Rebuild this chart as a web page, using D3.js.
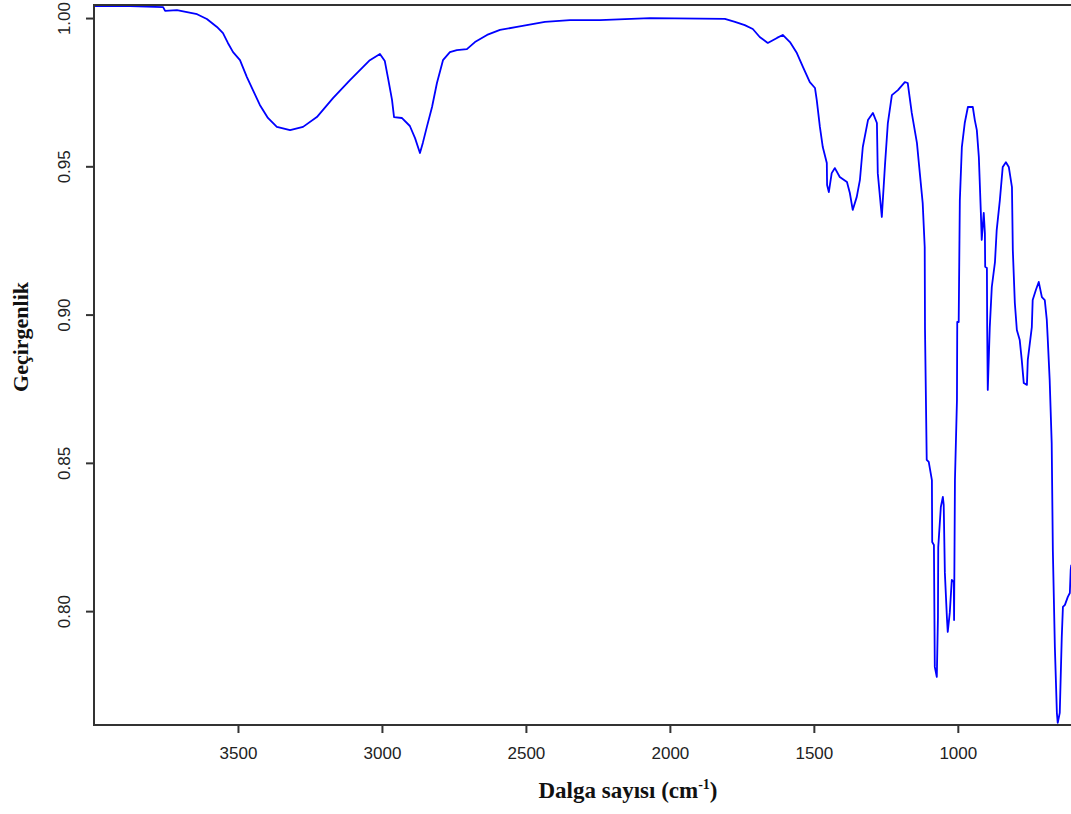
<!DOCTYPE html>
<html>
<head>
<meta charset="utf-8">
<script src="https://cdn.jsdelivr.net/npm/d3@7"></script>
<style>
  body { margin: 0; background: #fff; }
  svg { display: block; }
</style>
</head>
<body>
<svg id="chart"></svg>
<script>
// spectrum: wavenumber (cm-1) and transmittance
const wavenumbers = [4000, 3875, 3760, 3753, 3712, 3677, 3642, 3608, 3573, 3552, 3535, 3517, 3493, 3469, 3448, 3424, 3396, 3365, 3319, 3274,
  3226, 3170, 3111, 3042, 3007, 2990, 2979, 2965, 2958, 2931, 2903, 2885, 2868, 2858, 2844, 2826, 2809, 2788, 2764, 2740,
  2705, 2677, 2635, 2590, 2531, 2434, 2347, 2243, 2069, 1809, 1774, 1740, 1712, 1688, 1660, 1628, 1608, 1583, 1559, 1538,
  1514, 1496, 1490, 1479, 1469, 1455, 1454, 1448, 1438, 1427, 1410, 1385, 1375, 1365, 1351, 1340, 1330, 1312, 1295, 1281,
  1278, 1264, 1253, 1243, 1229, 1208, 1184, 1174, 1160, 1142, 1132, 1122, 1115, 1114, 1108, 1101, 1090, 1089, 1083, 1080,
  1073, 1069, 1068, 1059, 1052, 1049, 1045, 1038, 1035, 1028, 1021, 1014, 1013, 1010, 1003, 1002, 997, 993, 986, 976,
  965, 948, 941, 934, 927, 920, 917, 910, 906, 905, 899, 898, 896, 889, 882, 871, 865, 854, 844, 833,
  823, 812, 809, 802, 795, 785, 778, 771, 760, 757, 743, 740, 729, 719, 708, 698, 691, 688, 681, 674,
  670, 663, 656, 653, 646, 639, 635, 628, 618, 611, 608, 606];
const transmittance = [1.0040, 1.0040, 1.0037, 1.0024, 1.0027, 1.0020, 1.0013, 0.9997, 0.9970, 0.9949, 0.9916, 0.9885, 0.9858, 0.9801, 0.9757, 0.9707, 0.9663, 0.9633, 0.9622, 0.9633,
  0.9666, 0.9730, 0.9791, 0.9858, 0.9879, 0.9855, 0.9798, 0.9724, 0.9666, 0.9663, 0.9636, 0.9595, 0.9545, 0.9579, 0.9633, 0.9700, 0.9781, 0.9858, 0.9885, 0.9892,
  0.9895, 0.9919, 0.9943, 0.9960, 0.9970, 0.9987, 0.9993, 0.9993, 1.0000, 0.9997, 0.9987, 0.9976, 0.9963, 0.9936, 0.9916, 0.9933, 0.9943, 0.9919, 0.9882, 0.9835,
  0.9784, 0.9764, 0.9724, 0.9633, 0.9565, 0.9511, 0.9437, 0.9413, 0.9477, 0.9494, 0.9464, 0.9447, 0.9410, 0.9353, 0.9397, 0.9454, 0.9565, 0.9656, 0.9680, 0.9646,
  0.9477, 0.9329, 0.9504, 0.9646, 0.9740, 0.9757, 0.9784, 0.9781, 0.9680, 0.9579, 0.9477, 0.9376, 0.9228, 0.8951, 0.8510, 0.8503, 0.8442, 0.8233, 0.8223, 0.7812,
  0.7778, 0.7980, 0.8216, 0.8351, 0.8385, 0.8358, 0.8129, 0.7980, 0.7930, 0.7994, 0.8105, 0.8098, 0.7970, 0.8442, 0.8712, 0.8975, 0.8975, 0.9386, 0.9565, 0.9646,
  0.9700, 0.9700, 0.9656, 0.9622, 0.9531, 0.9343, 0.9252, 0.9343, 0.9275, 0.9161, 0.9157, 0.8955, 0.8746, 0.8958, 0.9093, 0.9177, 0.9285, 0.9386, 0.9498, 0.9514,
  0.9498, 0.9430, 0.9218, 0.9039, 0.8948, 0.8914, 0.8847, 0.8769, 0.8763, 0.8847, 0.8958, 0.9049, 0.9083, 0.9110, 0.9059, 0.9049, 0.8982, 0.8924, 0.8779, 0.8567,
  0.8206, 0.7879, 0.7657, 0.7623, 0.7657, 0.7913, 0.8014, 0.8021, 0.8048, 0.8061, 0.8139, 0.8156];

const xTicks = [3500, 3000, 2500, 2000, 1500, 1000];
const yTicks = [1.00, 0.95, 0.90, 0.85, 0.80];

const width = 1071, height = 814;
const margin = { top: 5, left: 94, bottom: 89 };
const plotRight = 1073;

const svg = d3.select('#chart')
  .attr('width', width)
  .attr('height', height);

const x = d3.scaleLinear().domain([4000, 600]).range([margin.left, plotRight]);
const y = d3.scaleLinear().domain([0.7616, 1.0044]).range([height - margin.bottom, margin.top]);

const data = wavenumbers.map((w, i) => [w, transmittance[i]]);

svg.append('clipPath').attr('id', 'clip')
  .append('rect')
  .attr('x', margin.left).attr('y', margin.top)
  .attr('width', plotRight - margin.left)
  .attr('height', height - margin.bottom - margin.top);

const line = d3.line()
  .x(d => x(d[0]))
  .y(d => y(d[1]));

svg.append('path')
  .datum(data)
  .attr('clip-path', 'url(#clip)')
  .attr('fill', 'none')
  .attr('stroke', '#0000ff')
  .attr('stroke-width', 1.8)
  .attr('stroke-linejoin', 'round')
  .attr('d', line);

// box (right side falls outside the picture)
svg.append('rect')
  .attr('x', margin.left).attr('y', margin.top)
  .attr('width', plotRight - margin.left)
  .attr('height', height - margin.bottom - margin.top)
  .attr('fill', 'none')
  .attr('stroke', '#333')
  .attr('stroke-width', 2);

const xAxis = svg.append('g')
  .attr('transform', `translate(0,${height - margin.bottom})`)
  .call(d3.axisBottom(x).tickValues(xTicks).tickSize(8).tickPadding(14).tickFormat(d3.format('d')));
xAxis.select('.domain').remove();
xAxis.selectAll('line').attr('stroke', '#333').attr('stroke-width', 2);
xAxis.selectAll('text')
  .attr('font-family', 'Liberation Sans, Arial, sans-serif')
  .attr('font-size', 17)
  .attr('fill', '#222');

const yAxis = svg.append('g')
  .attr('transform', `translate(${margin.left},0)`)
  .call(d3.axisLeft(y).tickValues(yTicks).tickSize(8).tickFormat(d3.format('.2f')));
yAxis.select('.domain').remove();
yAxis.selectAll('line').attr('stroke', '#333').attr('stroke-width', 2);
yAxis.selectAll('text')
  .attr('x', null).attr('dy', null)
  .attr('text-anchor', 'middle')
  .attr('transform', 'translate(-24,0) rotate(-90)')
  .attr('font-family', 'Liberation Sans, Arial, sans-serif')
  .attr('font-size', 17)
  .attr('fill', '#222');

// axis titles
const xTitle = svg.append('text')
  .attr('x', 628).attr('y', 798)
  .attr('text-anchor', 'middle')
  .attr('font-family', 'Liberation Serif, Times New Roman, serif')
  .attr('font-weight', 'bold')
  .attr('font-size', 23)
  .attr('fill', '#111');
xTitle.append('tspan').text('Dalga sayısı (cm');
xTitle.append('tspan').attr('dy', -9).attr('font-size', 14).text('-1');
xTitle.append('tspan').attr('dy', 9).text(')');

svg.append('text')
  .attr('transform', 'translate(28,337) rotate(-90)')
  .attr('text-anchor', 'middle')
  .attr('font-family', 'Liberation Serif, Times New Roman, serif')
  .attr('font-weight', 'bold')
  .attr('font-size', 22)
  .attr('fill', '#111')
  .text('Geçirgenlik');
</script>
</body>
</html>
